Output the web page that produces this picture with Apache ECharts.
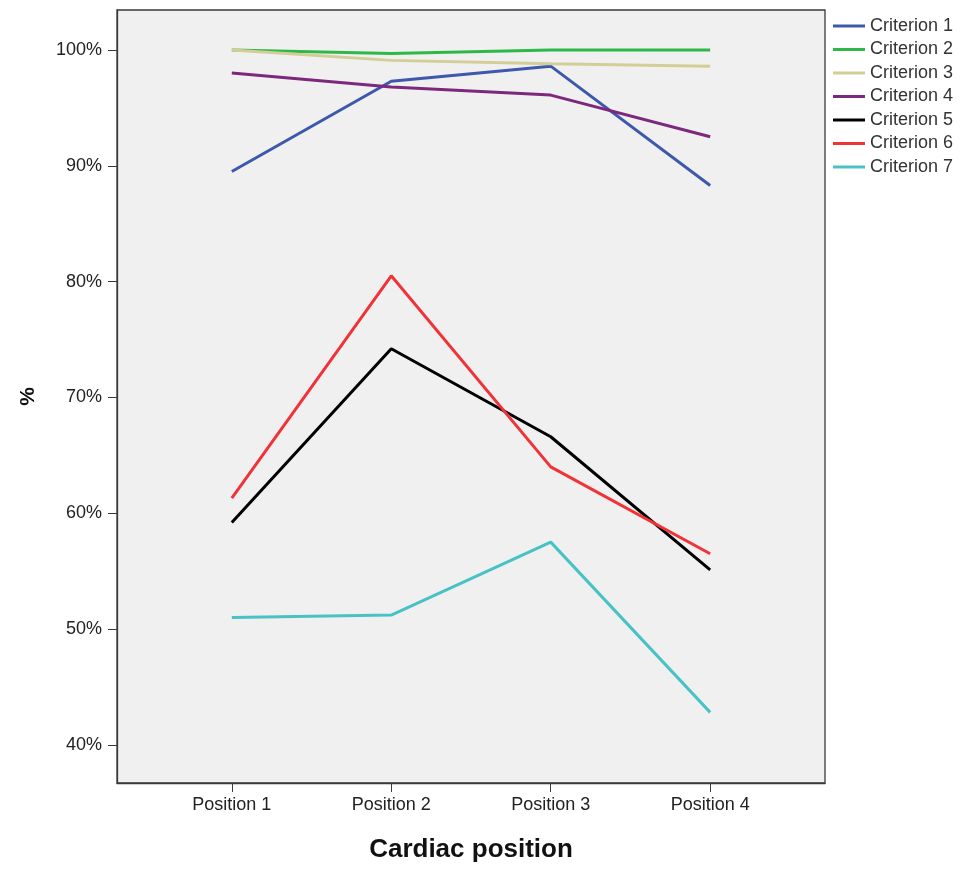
<!DOCTYPE html>
<html>
<head>
<meta charset="utf-8">
<script src="https://cdn.jsdelivr.net/npm/echarts@6/dist/echarts.min.js"></script>
<style>html,body{margin:0;padding:0;background:#fff;overflow:hidden}#c{width:963px;height:869px}</style>
</head>
<body>
<div id="c"></div>
<script>
const categories = ['Position 1', 'Position 2', 'Position 3', 'Position 4'];
const seriesNames = ['Criterion 1', 'Criterion 2', 'Criterion 3', 'Criterion 4', 'Criterion 5', 'Criterion 6', 'Criterion 7'];
const criterion1 = [89.5, 97.3, 98.6, 88.3];
const criterion2 = [100.0, 99.7, 100.0, 100.0];
const criterion3 = [100.0, 99.1, 98.8, 98.6];
const criterion4 = [98.0, 96.8, 96.1, 92.5];
const criterion5 = [59.2, 74.2, 66.6, 55.1];
const criterion6 = [61.3, 80.5, 64.0, 56.5];
const criterion7 = [51.0, 51.2, 57.5, 42.8];
const yTicks = [40, 50, 60, 70, 80, 90, 100];
const colors = ['#3e58ac', '#2eb848', '#d3ce97', '#7c287d', '#000000', '#ef3338', '#48c2c5'];

const allValues = [criterion1, criterion2, criterion3, criterion4, criterion5, criterion6, criterion7];
const xPos = categories.map((c, i) => i + 1);

const chart = echarts.init(document.getElementById('c'));
chart.setOption({
  animation: false,
  backgroundColor: '#ffffff',
  textStyle: { fontFamily: 'Liberation Sans, Arial, sans-serif' },
  grid: { left: 117, right: 138, top: 10, bottom: 86, outerBoundsMode: 'none', containLabel: false, show: true, backgroundColor: '#f0f0f0', borderColor: '#3a3a3a', borderWidth: 1.3 },
  legend: {
    orient: 'vertical', left: 833, top: 17, padding: 0,
    icon: 'rect', itemWidth: 32, itemHeight: 3, itemGap: 5.5,
    textStyle: { fontSize: 18, color: '#333', lineHeight: 18 },
    data: seriesNames
  },
  xAxis: {
    type: 'value', min: 0.28, max: 4.72,
    name: 'Cardiac position', nameLocation: 'middle', nameGap: 54,
    nameTextStyle: { fontSize: 26, fontWeight: 'bold', color: '#111' },
    axisLine: { show: true, lineStyle: { color: '#3a3a3a', width: 1.3 } },
    axisTick: { show: true, length: 9, lineStyle: { color: '#3a3a3a' }, customValues: xPos },
    axisLabel: { fontSize: 18, color: '#222', margin: 13, customValues: xPos, formatter: v => categories[Math.round(v) - 1] || '' },
    splitLine: { show: false }
  },
  yAxis: {
    type: 'value', min: 36.7, max: 103.45,
    name: '%', nameLocation: 'middle', nameGap: 78, nameRotate: 90,
    nameTextStyle: { fontSize: 21, fontWeight: 'bold', color: '#111' },
    axisLine: { show: true, lineStyle: { color: '#3a3a3a', width: 1.3 } },
    axisTick: { show: true, length: 9, lineStyle: { color: '#3a3a3a' }, customValues: yTicks },
    axisLabel: { fontSize: 18, color: '#222', margin: 15, customValues: yTicks, formatter: v => v + '%' },
    splitLine: { show: false }
  },
  series: seriesNames.map((n, k) => ({
    name: n, type: 'line', showSymbol: false, symbol: 'none',
    color: colors[k],
    lineStyle: { width: 3, color: colors[k] },
    data: allValues[k].map((v, i) => [xPos[i], v])
  }))
});
</script>
</body>
</html>
